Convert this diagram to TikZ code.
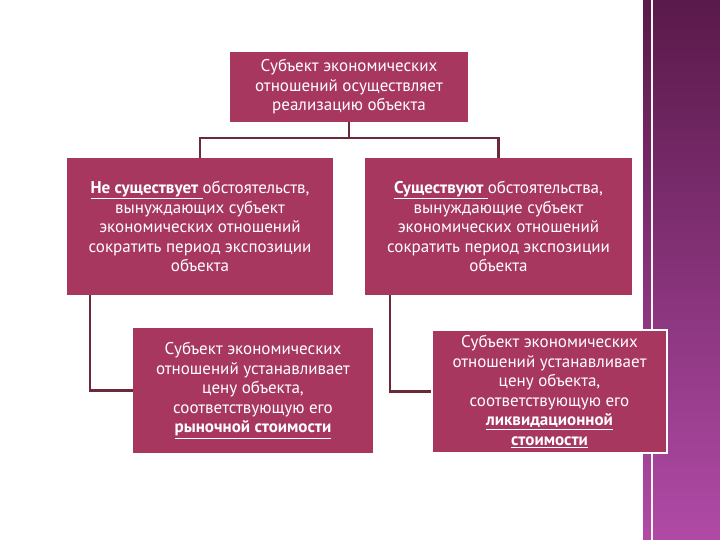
\documentclass[tikz,border=0pt]{standalone}
\usepackage{fontspec}
\setmainfont{PT Sans}
\definecolor{boxc}{HTML}{A8375F}
\definecolor{linec}{HTML}{6B2A3A}
\definecolor{bandtop}{HTML}{5A1A4A}
\definecolor{bandbot}{HTML}{B04AA6}
\newcommand\ulb[1]{\underline{\textbf{#1}}}
\begin{document}
\begin{tikzpicture}[x=1pt,y=-1pt,
  bx/.style={fill=boxc,text=white,align=center,inner sep=0pt,font=\fontsize{17}{19.5}\selectfont},
  conn/.style={draw=linec,line width=2.5pt}]
\useasboundingbox (0,0) rectangle (720,540);
\fill[white] (0,0) rectangle (720,540);
\shade[top color=bandtop,bottom color=bandbot] (643,0) rectangle (720,540);
\draw[white!85!pink,line width=1.5pt] (652,0) -- (652,540);
\node[bx,minimum width=238,minimum height=70] (top) at (349,87) {Субъект экономических\\отношений осуществляет\\реализацию объекта};
\node[bx,minimum width=266,minimum height=137] (l) at (200,226.5) {\ulb{Не существует }обстоятельств,\\вынуждающих субъект\\экономических отношений\\сократить период экспозиции\\объекта};
\node[bx,minimum width=267,minimum height=137] (r) at (498.5,226.5) {\ulb{Существуют }обстоятельства,\\вынуждающие субъект\\экономических отношений\\сократить период экспозиции\\объекта};
\node[bx,minimum width=240,minimum height=125] (bl) at (253,390.5) {Субъект экономических\\отношений устанавливает\\цену объекта,\\соответствующую его\\\ulb{рыночной стоимости}};
\node[bx,draw=white,line width=1.5pt,minimum width=235,minimum height=123] (br) at (549.5,391.5) {Субъект экономических\\отношений устанавливает\\цену объекта,\\соответствующую его\\\ulb{ликвидационной}\\\ulb{стоимости}};
\coordinate (j) at (349,138);
\draw[conn] (top.south) -- (j);
\draw[conn] (l.north) |- (j) -| (r.north);
\draw[conn] ([xshift=23pt]l.south west) |- (bl.west);
\draw[conn] ([xshift=25pt]r.south west) |- (br.west);
\end{tikzpicture}
\end{document}
